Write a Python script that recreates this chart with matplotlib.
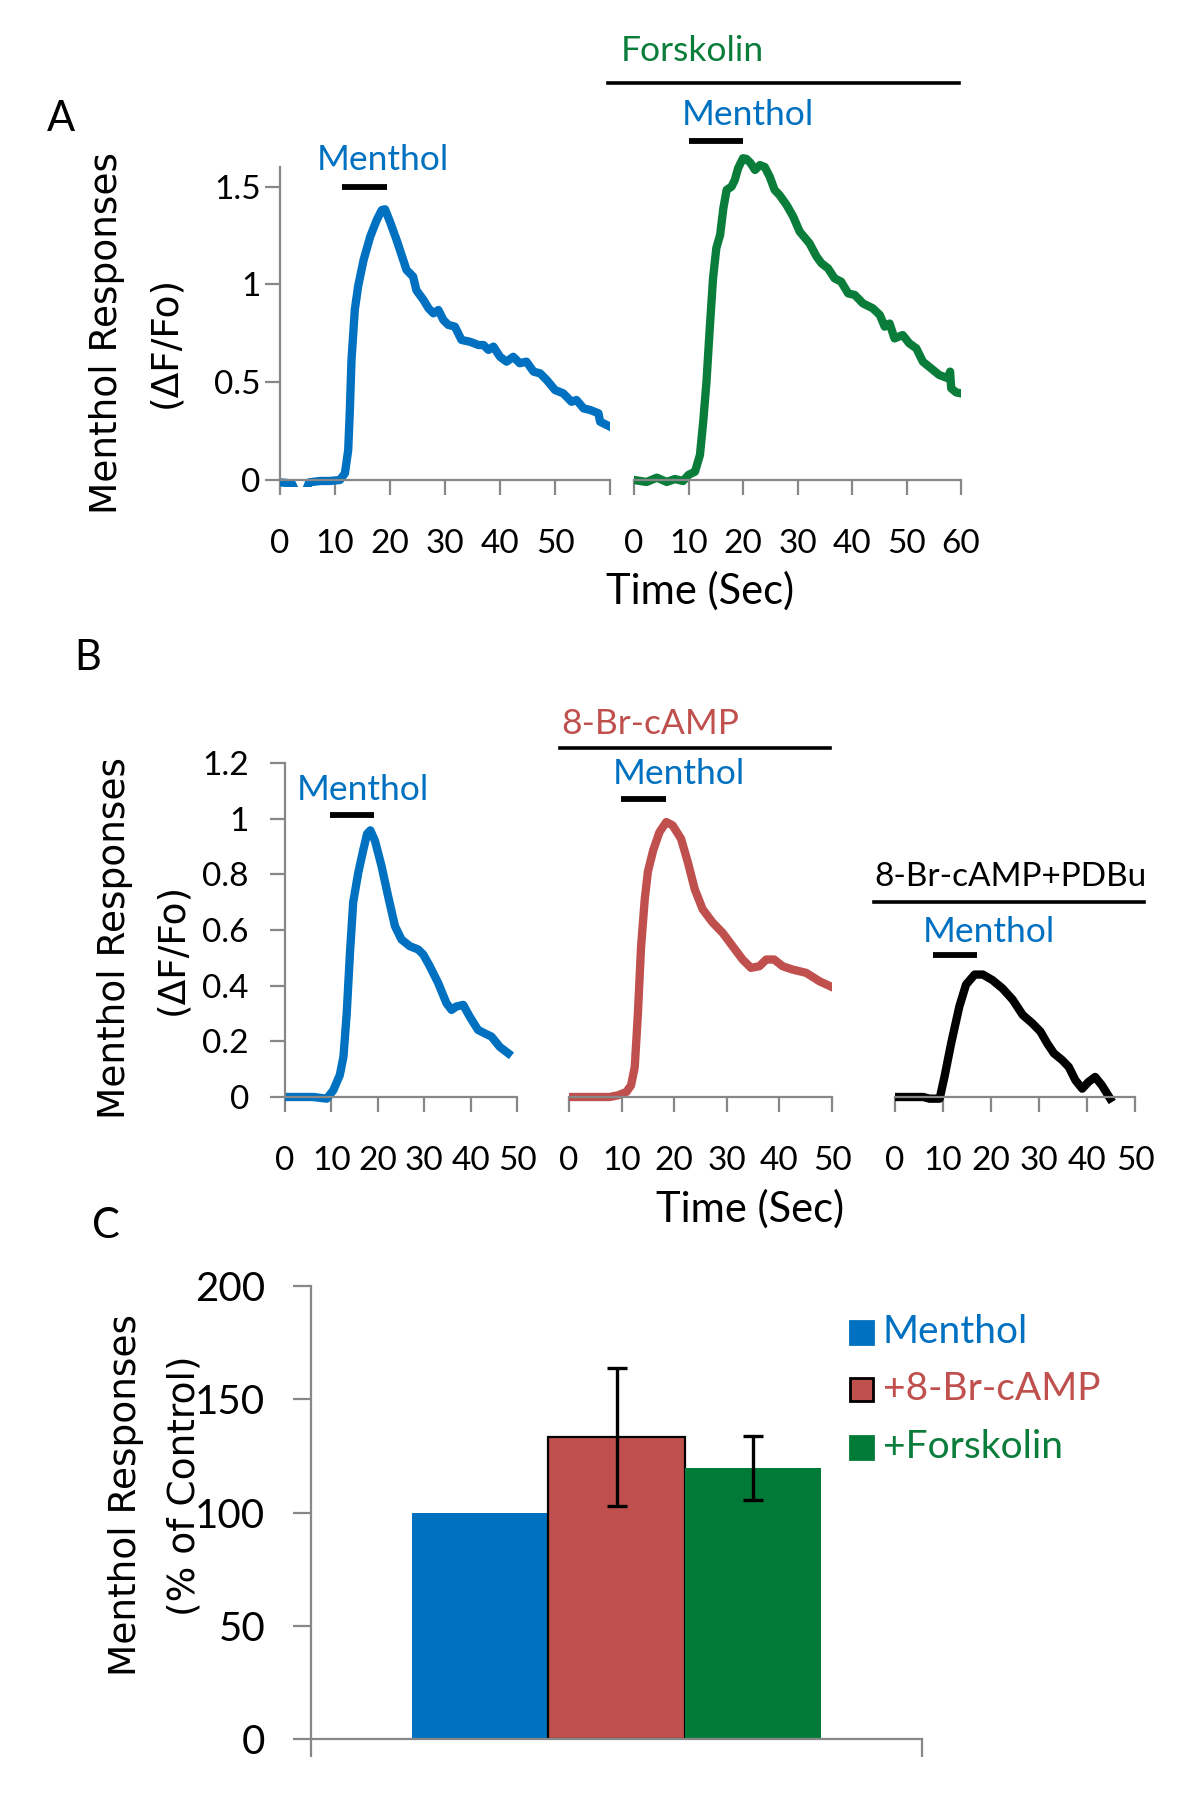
import numpy as np
import matplotlib
matplotlib.use("Agg")
import matplotlib.pyplot as plt
from matplotlib.lines import Line2D
from matplotlib.patches import Rectangle

plt.rcParams['font.family'] = ['Lato', 'DejaVu Sans']

# ---------------- data ----------------
# Panel A, control menthol trace (s, dF/Fo)
a_ctrl_t = [0, 1.2, 2.2, 3.0, 4.5, 5.3, 7.3, 9.0, 10.9, 11.8, 12.4, 12.7, 13.0, 13.6, 14.2,
            15.2, 16.4, 17.6, 18.5, 19.1, 20.0, 21.2, 22.4, 23.0, 24.2, 24.8, 26.1, 27.0,
            27.9, 28.8, 29.7, 30.6, 31.8, 33.0, 34.5, 36.1, 37.0, 37.9, 38.8, 40.0, 41.2,
            42.4, 43.6, 44.8, 46.1, 47.3, 48.5, 50.0, 51.5, 53.0, 53.9, 55.2, 56.4, 57.9,
            58.2, 60.0]
a_ctrl_v = [-0.012, -0.015, -0.02, -0.07, -0.07, -0.012, -0.005, -0.005, 0.0, 0.034, 0.153,
            0.358, 0.614, 0.87, 0.99, 1.125, 1.244, 1.33, 1.38, 1.384, 1.32, 1.227, 1.125,
            1.074, 1.04, 0.97, 0.92, 0.878, 0.852, 0.869, 0.818, 0.793, 0.784, 0.716, 0.707,
            0.69, 0.69, 0.665, 0.682, 0.63, 0.605, 0.63, 0.597, 0.605, 0.554, 0.545, 0.511,
            0.46, 0.443, 0.40, 0.409, 0.366, 0.358, 0.341, 0.298, 0.273]

# Panel A, menthol trace under forskolin
a_fsk_t = [0, 2.3, 4.2, 6.0, 7.5, 9.0, 10.0, 11.2, 12.1, 12.7, 13.3, 13.9, 14.5, 15.1, 15.8,
           16.4, 17.0, 17.9, 18.5, 19.1, 20.0, 20.6, 21.4, 22.2, 23.1, 24.0, 24.9, 25.8,
           26.7, 28.0, 29.2, 30.4, 32.2, 33.5, 34.4, 35.6, 36.8, 38.0, 39.3, 40.5, 42.0,
           43.8, 45.1, 46.0, 46.9, 47.8, 49.3, 50.5, 51.8, 53.0, 54.5, 56.0, 57.6, 58.0,
           58.2, 59.1, 60.0]
a_fsk_v = [0.0, -0.01, 0.012, -0.01, 0.005, -0.005, 0.026, 0.043, 0.128, 0.298, 0.503, 0.776,
           1.03, 1.185, 1.253, 1.39, 1.483, 1.50, 1.534, 1.594, 1.645, 1.642, 1.62, 1.585,
           1.61, 1.60, 1.551, 1.483, 1.457, 1.406, 1.347, 1.27, 1.21, 1.142, 1.108, 1.082,
           1.031, 1.014, 0.954, 0.946, 0.903, 0.878, 0.844, 0.784, 0.80, 0.724, 0.741, 0.699,
           0.673, 0.605, 0.571, 0.537, 0.52, 0.554, 0.469, 0.448, 0.443]

# Panel B traces
b_ctrl_t = [0, 6.1, 9.0, 10.4, 11.8, 12.6, 13.3, 14.0, 14.7, 15.8, 16.9, 17.7, 18.4, 19.4,
            20.8, 22.2, 23.7, 25.1, 26.9, 28.7, 29.8, 31.2, 33.0, 34.8, 35.9, 36.9, 38.4,
            39.8, 41.6, 43.0, 44.5, 46.3, 48.1]
b_ctrl_v = [0.0, 0.0, -0.006, 0.024, 0.078, 0.145, 0.30, 0.518, 0.70, 0.807, 0.89, 0.946,
            0.958, 0.92, 0.83, 0.723, 0.614, 0.566, 0.542, 0.53, 0.512, 0.47, 0.41, 0.337,
            0.313, 0.325, 0.331, 0.289, 0.241, 0.229, 0.217, 0.18, 0.157]

b_camp_t = [0, 7.7, 9.3, 10.9, 11.8, 12.5, 13.1, 13.7, 14.4, 15.0, 16.0, 17.2, 18.5, 19.7,
            21.3, 22.6, 23.9, 25.4, 27.3, 29.2, 31.1, 33.0, 34.6, 36.2, 37.5, 39.0, 40.6,
            42.5, 45.1, 47.6, 50.0]
b_camp_v = [0.0, 0.0, 0.006, 0.018, 0.042, 0.108, 0.30, 0.54, 0.71, 0.81, 0.886, 0.952,
            0.988, 0.976, 0.928, 0.843, 0.747, 0.675, 0.627, 0.59, 0.542, 0.494, 0.464,
            0.47, 0.494, 0.494, 0.47, 0.458, 0.446, 0.416, 0.395]

b_pdbu_t = [0, 5.9, 7.2, 9.3, 10.3, 11.7, 13.4, 14.8, 16.6, 18.3, 20.3, 22.4, 24.5, 26.6,
            28.6, 30.3, 31.7, 33.1, 34.8, 36.2, 37.6, 39.0, 40.3, 41.7, 43.1, 44.8]
b_pdbu_v = [0.0, 0.0, -0.006, -0.006, 0.072, 0.193, 0.325, 0.404, 0.44, 0.44, 0.42, 0.39,
            0.35, 0.295, 0.265, 0.235, 0.193, 0.157, 0.133, 0.108, 0.06, 0.03, 0.054,
            0.072, 0.042, -0.005]

# menthol application windows (start s, end s, drawn level)
stim_a_ctrl = (11.2, 19.4, 1.50)
stim_a_fsk = (10.1, 20.0, 1.733)
stim_b_ctrl = (9.7, 19.2, 1.012)
stim_b_camp = (9.9, 18.4, 1.072)
stim_b_pdbu = (7.9, 17.0, 0.512)

# Panel C summary (% of control)
conditions = ['Menthol', '+8-Br-cAMP', '+Forskolin']
pct = [100, 133.3, 119.6]
pct_err = [0, 30.5, 14.1]

# ---------------- styling ----------------
BLUE = '#0070C0'
RED = '#C0504D'
GREEN = '#0B7D3B'
BAR_GREEN = '#007A37'
GRAY = '#878787'
W, H = 1200, 1800
TICK_SIZE = 24

fig = plt.figure(figsize=(12, 18), dpi=100)


def px(x, y):
    return x / W, 1 - y / H


def add_ax(x0, x1, ytop, ybot):
    return fig.add_axes([x0 / W, 1 - ybot / H, (x1 - x0) / W, (ybot - ytop) / H])


def style_trace(ax, xmax, ylim, ytop, yticks=None, ylabels=None, xlabels=None, ypad=3):
    ax.patch.set_alpha(0)
    for s in ['top', 'right']:
        ax.spines[s].set_visible(False)
    ax.spines['bottom'].set_position(('data', 0))
    ax.spines['bottom'].set_color(GRAY)
    ax.spines['bottom'].set_linewidth(1.6)
    ax.set_xlim(0, xmax)
    ax.set_ylim(*ylim)
    ticks = np.arange(0, xmax + 1, 10)
    ax.set_xticks(ticks)
    ax.set_xticklabels(xlabels if xlabels else [str(t) for t in ticks])
    ax.tick_params(axis='x', direction='out', length=11, width=1.6, color=GRAY,
                   pad=24, labelsize=TICK_SIZE)
    if yticks is None:
        ax.spines['left'].set_visible(False)
        ax.set_yticks([])
    else:
        ax.spines['left'].set_color(GRAY)
        ax.spines['left'].set_linewidth(1.6)
        ax.spines['left'].set_bounds(0, ytop)
        ax.set_yticks(yticks)
        ax.set_yticklabels(ylabels)
        ax.tick_params(axis='y', direction='out', length=11, width=1.6, color=GRAY,
                       pad=ypad, labelsize=TICK_SIZE)


def stim_bar(ax, stim):
    ax.plot([stim[0], stim[1]], [stim[2], stim[2]], color='black', lw=4.2,
            solid_capstyle='butt', clip_on=False)


def fig_line(x0, x1, y, lw=2.6):
    fig.add_artist(Line2D([x0 / W, x1 / W], [1 - y / H, 1 - y / H],
                          transform=fig.transFigure, color='black', lw=lw))


def ftext(x, y, s, **kw):
    fig.text(*px(x, y), s, ha=kw.pop('ha', 'center'), va=kw.pop('va', 'center'), **kw)


ylab_font = dict(family=['DejaVu Sans'], fontsize=27, rotation=90)
ANNOT = 25.5

# ---------------- Panel A ----------------
a_lim = (-0.035, 1.8)
a_unit = 195.6
a_top = 480 - a_lim[1] * a_unit
a_bot = 480 - a_lim[0] * a_unit
axA1 = add_ax(280, 610, a_top, a_bot)
axA2 = add_ax(634, 961, a_top, a_bot)
style_trace(axA1, 60, a_lim, 1.6, [0, 0.5, 1, 1.5], ['0', '0.5', '1', '1.5'],
            xlabels=['0', '10', '20', '30', '40', '50', ''])
style_trace(axA2, 60, a_lim, 1.6)
axA1.plot(a_ctrl_t, a_ctrl_v, color=BLUE, lw=6, solid_joinstyle='round')
axA2.plot(a_fsk_t, a_fsk_v, color=GREEN, lw=6, solid_joinstyle='round')
stim_bar(axA1, stim_a_ctrl)
stim_bar(axA2, stim_a_fsk)

ftext(383, 160, 'Menthol', color=BLUE, fontsize=ANNOT)
ftext(748, 115, 'Menthol', color=BLUE, fontsize=ANNOT)
ftext(692, 51, 'Forskolin', color=GREEN, fontsize=ANNOT)
fig_line(608, 959, 83)
ftext(700, 591, 'Time (Sec)', fontsize=30)
ftext(61, 119, 'A', fontsize=30)
ftext(107, 333, 'Menthol Responses', **ylab_font)
ftext(165, 342, '(ΔF/Fo)', **ylab_font)

# ---------------- Panel B ----------------
b_lim = (-0.03, 1.2)
b_unit = 278.3
b_top = 1097 - b_lim[1] * b_unit
b_bot = 1097 - b_lim[0] * b_unit
axB1 = add_ax(285, 517, b_top, b_bot)
axB2 = add_ax(569, 832, b_top, b_bot)
axB3 = add_ax(895, 1135, b_top, b_bot)
style_trace(axB1, 50, b_lim, 1.2, [0, 0.2, 0.4, 0.6, 0.8, 1, 1.2],
            ['0', '0.2', '0.4', '0.6', '0.8', '1', '1.2'], ypad=15)
style_trace(axB2, 50, b_lim, 1.2)
style_trace(axB3, 50, b_lim, 1.2)
axB1.plot(b_ctrl_t, b_ctrl_v, color=BLUE, lw=6, solid_joinstyle='round')
axB2.plot(b_camp_t, b_camp_v, color=RED, lw=6, solid_joinstyle='round')
axB3.plot(b_pdbu_t, b_pdbu_v, color='black', lw=6, solid_joinstyle='round')
stim_bar(axB1, stim_b_ctrl)
stim_bar(axB2, stim_b_camp)
stim_bar(axB3, stim_b_pdbu)

ftext(363, 790, 'Menthol', color=BLUE, fontsize=ANNOT)
ftext(679, 774, 'Menthol', color=BLUE, fontsize=ANNOT)
ftext(989, 932, 'Menthol', color=BLUE, fontsize=ANNOT)
ftext(650, 724, '8-Br-cAMP', color=RED, fontsize=ANNOT)
fig_line(560, 830, 748)
ftext(1010, 877, '8-Br-cAMP+PDBu', color='black', fontsize=24)
fig_line(874, 1144, 902)
ftext(750, 1209, 'Time (Sec)', fontsize=30)
ftext(88, 658, 'B', fontsize=30)
ftext(115, 938, 'Menthol Responses', **ylab_font)
ftext(172, 949, '(ΔF/Fo)', **ylab_font)

# ---------------- Panel C ----------------
axC = add_ax(311, 922, 1286, 1739)
axC.patch.set_alpha(0)
for s in ['top', 'right']:
    axC.spines[s].set_visible(False)
for s in ['left', 'bottom']:
    axC.spines[s].set_color(GRAY)
    axC.spines[s].set_linewidth(1.6)
axC.set_xlim(0, 1)
axC.set_ylim(0, 200)
axC.set_xticks([0, 1])
axC.set_xticklabels(['', ''])
axC.set_yticks([0, 50, 100, 150, 200])
axC.tick_params(axis='both', direction='out', length=13, width=1.6, color=GRAY)
axC.tick_params(axis='y', pad=20, labelsize=29)

bw = 0.2226
xs = [0.5 - bw, 0.5, 0.5 + bw]
bar_colors = [BLUE, RED, BAR_GREEN]
edges = ['none', 'black', 'none']
axC.bar(xs, pct, width=bw, color=bar_colors, edgecolor=edges, linewidth=1.6)
for x, v, e in zip(xs, pct, pct_err):
    if e > 0:
        axC.errorbar(x, v, yerr=e, fmt='none', ecolor='black', elinewidth=2.4,
                     capsize=7, capthick=2.4)

text_colors = [BLUE, RED, GREEN]
for i, (lab, fc, ec, tc) in enumerate(zip(conditions, bar_colors, edges, text_colors)):
    yc = 1332 + i * 57.5
    fig.add_artist(Rectangle(px(850, yc + 11.5), 23 / W, 23 / H, transform=fig.transFigure,
                             facecolor=fc, edgecolor=ec if ec != 'none' else fc,
                             linewidth=2.0))
    ftext(883, yc, lab, color=tc, fontsize=28, ha='left')

ftext(106, 1226, 'C', fontsize=30)
ftext(126, 1495, 'Menthol Responses', **ylab_font)
ftext(184, 1486, '(% of Control)', **ylab_font)

fig.savefig('out.png', dpi=100, facecolor='white')
